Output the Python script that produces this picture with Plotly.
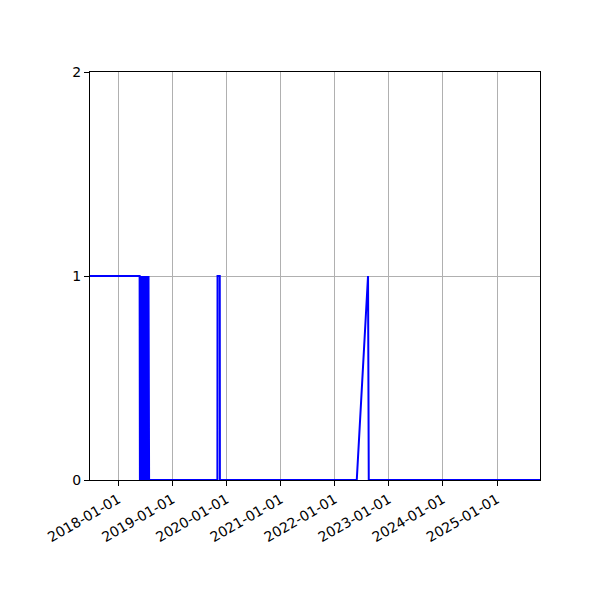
#!/usr/bin/env python3
"""Binary status over time, step-like line plot"""

import plotly.graph_objects as go

# status samples (1 = on, 0 = off)
dates = [
    "2017-06-24", "2018-05-25", "2018-05-27", "2018-05-30", "2018-06-02",
    "2018-06-05", "2018-06-08", "2018-06-11", "2018-06-14", "2018-06-17",
    "2018-06-20", "2018-06-23", "2018-06-26", "2018-06-29", "2018-07-02",
    "2018-07-05", "2018-07-08", "2018-07-11", "2018-07-14", "2018-07-17",
    "2018-07-20", "2018-07-24", "2018-07-28", "2019-11-01", "2019-11-02",
    "2019-11-17", "2019-11-18", "2022-05-30", "2022-08-14", "2022-08-19",
    "2025-10-18",
]
values = [
    1, 1, 0, 1, 0,
    1, 0, 1, 0, 1,
    0, 1, 0, 1, 0,
    1, 0, 1, 0, 1,
    0, 1, 0, 0, 1,
    1, 0, 0, 1, 0,
    0,
]

x_ticks = ["2018-01-01", "2019-01-01", "2020-01-01", "2021-01-01",
           "2022-01-01", "2023-01-01", "2024-01-01", "2025-01-01"]
y_ticks = [0, 1, 2]

fig = go.Figure()

fig.add_trace(go.Scatter(
    x=dates,
    y=values,
    mode='lines',
    line=dict(color='blue', width=2),
    showlegend=False
))

axis_style = dict(
    showline=True,
    linecolor='black',
    linewidth=1,
    mirror=True,
    ticks='outside',
    ticklen=5,
    tickwidth=1,
    tickcolor='black',
    showgrid=True,
    gridcolor='#b0b0b0',
    gridwidth=1,
    zeroline=False,
)

fig.update_xaxes(
    range=[dates[0], dates[-1]],
    tickvals=x_ticks,
    ticktext=x_ticks,
    tickangle=-30,
    **axis_style
)
fig.update_yaxes(
    range=[0, 2],
    tickvals=y_ticks,
    **axis_style
)

# page body adds 8px offset, so margins are trimmed to land the plot at 90..540 / 72..480
fig.update_layout(
    width=600,
    height=600,
    margin=dict(l=82, r=68, t=64, b=128),
    plot_bgcolor='white',
    paper_bgcolor='white',
    font=dict(family='DejaVu Sans', size=14, color='black'),
)

fig.write_html("out.html")
